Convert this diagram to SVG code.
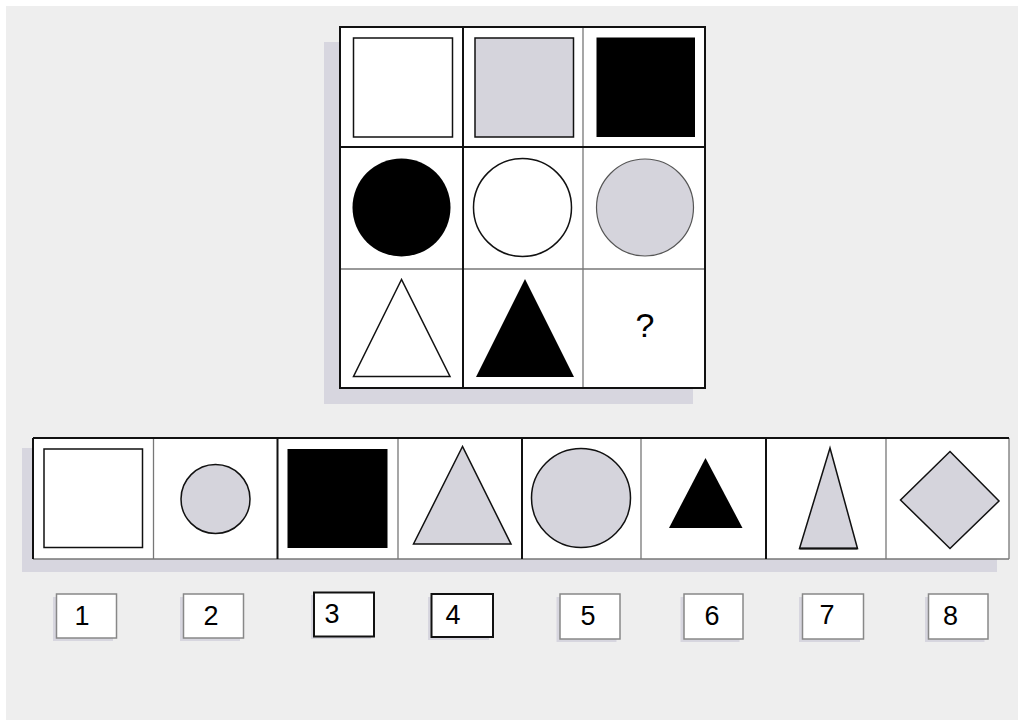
<svg xmlns="http://www.w3.org/2000/svg" width="1018" height="720" viewBox="0 0 1018 720">
<style>
.shadow{fill:#d7d6df}
.cell{fill:#ffffff}
.dk{stroke:#111;stroke-width:2;fill:none}
.lt{stroke:#777;stroke-width:1.3;fill:none}
.gray{fill:#d5d4dc}
.blk{fill:#000}
.wht{fill:#fff}
.ol{stroke:#111;stroke-width:1.5}
.num{font-family:"Liberation Sans",Arial,sans-serif;font-size:27px;fill:#000;text-anchor:middle}
.q{font-family:"Liberation Sans",Arial,sans-serif;font-size:34px;fill:#000;text-anchor:middle}
.nbox{fill:#fff;stroke:#888;stroke-width:1.5}
.nboxd{fill:#fff;stroke:#111;stroke-width:2}
</style>
<rect width="1018" height="720" fill="#ffffff"/>
<rect x="6" y="6" width="1012" height="714" fill="#eeeeee"/>

<g id="matrix">
  <rect class="shadow" x="324" y="42" width="369" height="362"/>
  <rect class="cell" x="340" y="27" width="365" height="361"/>
  <line class="lt" x1="583" y1="27" x2="583" y2="388"/>
  <line class="lt" x1="340" y1="269" x2="705" y2="269"/>
  <line class="dk" x1="463" y1="27" x2="463" y2="388"/>
  <line class="dk" x1="340" y1="147" x2="705" y2="147"/>
  <rect class="dk" x="340" y="27" width="365" height="361"/>
</g>
<g id="m11"><rect class="wht ol" x="353.5" y="38" width="99" height="99" stroke-width="2"/></g>
<g id="m12"><rect class="gray ol" x="475" y="38" width="98.5" height="99" stroke-width="2"/></g>
<g id="m13"><rect class="blk" x="596.5" y="37.5" width="98.5" height="99.5"/></g>
<g id="m21"><circle class="blk" cx="401.5" cy="207.5" r="49"/></g>
<g id="m22"><circle class="wht ol" cx="522.5" cy="207.5" r="49"/></g>
<g id="m23"><circle class="gray" cx="645" cy="207.5" r="48.5" stroke="#555" stroke-width="1.2"/></g>
<g id="m31"><polygon class="wht ol" points="401.5,279.5 353.5,376.5 450,376.5" stroke-width="1.3"/></g>
<g id="m32"><polygon class="blk" points="525,279 476,377 574,377"/></g>
<g id="m33"><text class="q" x="645" y="337">?</text></g>

<g id="options">
  <rect class="shadow" x="22" y="448" width="975" height="124"/>
  <rect class="cell" x="33" y="438" width="976" height="121"/>
  <g class="lt">
    <line x1="153.5" y1="438" x2="153.5" y2="559"/>
    <line x1="398" y1="438" x2="398" y2="559"/>
    <line x1="641" y1="438" x2="641" y2="559"/>
    <line x1="886" y1="438" x2="886" y2="559"/>
    <line x1="1009" y1="438" x2="1009" y2="559"/>
    <line x1="33" y1="559" x2="1009" y2="559"/>
  </g>
  <g class="dk">
    <line x1="33" y1="438" x2="33" y2="559"/>
    <line x1="277.5" y1="438" x2="277.5" y2="559"/>
    <line x1="522" y1="438" x2="522" y2="559"/>
    <line x1="766" y1="438" x2="766" y2="559"/>
    <line x1="33" y1="438" x2="1009" y2="438"/>
  </g>
</g>
<g id="o1"><rect class="wht ol" x="44" y="449" width="98.5" height="98.5" stroke-width="2"/></g>
<g id="o2"><circle class="gray ol" cx="215.5" cy="499" r="34.5" stroke-width="1.2"/></g>
<g id="o3"><rect class="blk" x="287.5" y="449" width="100" height="99"/></g>
<g id="o4"><polygon class="gray ol" points="462.5,446.5 413.5,544 511,544" stroke-width="1.2"/></g>
<g id="o5"><circle class="gray ol" cx="581" cy="498" r="49.5" stroke-width="1.2"/></g>
<g id="o6"><polygon class="blk" points="705.5,458 669,528 742.5,528"/></g>
<g id="o7"><polygon class="gray ol" points="830,448 799.5,548.5 857.5,548.5" stroke-width="1.2"/><line x1="799.5" y1="548.5" x2="857.5" y2="548.5" stroke="#111" stroke-width="2"/></g>
<g id="o8"><polygon class="gray ol" points="950,451.5 999,501 950,548.5 900.5,500" stroke-width="1.2"/></g>

<g id="n1"><rect class="shadow" x="53" y="597" width="60" height="44"/><rect class="nbox" x="56.5" y="594" width="60" height="44"/><text class="num" x="82" y="625">1</text></g>
<g id="n2"><rect class="shadow" x="180" y="597" width="60" height="44"/><rect class="nbox" x="183.5" y="594" width="60" height="44"/><text class="num" x="211" y="625">2</text></g>
<g id="n3"><rect class="shadow" x="311" y="595" width="60" height="44"/><rect class="nboxd" x="314" y="592.5" width="60" height="44"/><text class="num" x="332" y="623">3</text></g>
<g id="n4"><rect class="shadow" x="428" y="597" width="61" height="43"/><rect class="nboxd" x="431.5" y="594" width="61.5" height="43"/><text class="num" x="453" y="624">4</text></g>
<g id="n5"><rect class="shadow" x="556.5" y="597" width="60" height="45"/><rect class="nbox" x="560" y="594" width="60" height="45"/><text class="num" x="588" y="625">5</text></g>
<g id="n6"><rect class="shadow" x="680.5" y="597" width="59" height="45"/><rect class="nbox" x="684" y="594" width="59" height="45"/><text class="num" x="712" y="625">6</text></g>
<g id="n7"><rect class="shadow" x="799" y="597" width="61" height="45"/><rect class="nbox" x="802.5" y="594" width="61" height="45"/><text class="num" x="827" y="624">7</text></g>
<g id="n8"><rect class="shadow" x="925" y="597" width="59.5" height="45"/><rect class="nbox" x="928.5" y="594" width="59.5" height="45"/><text class="num" x="950.5" y="625">8</text></g>
</svg>
